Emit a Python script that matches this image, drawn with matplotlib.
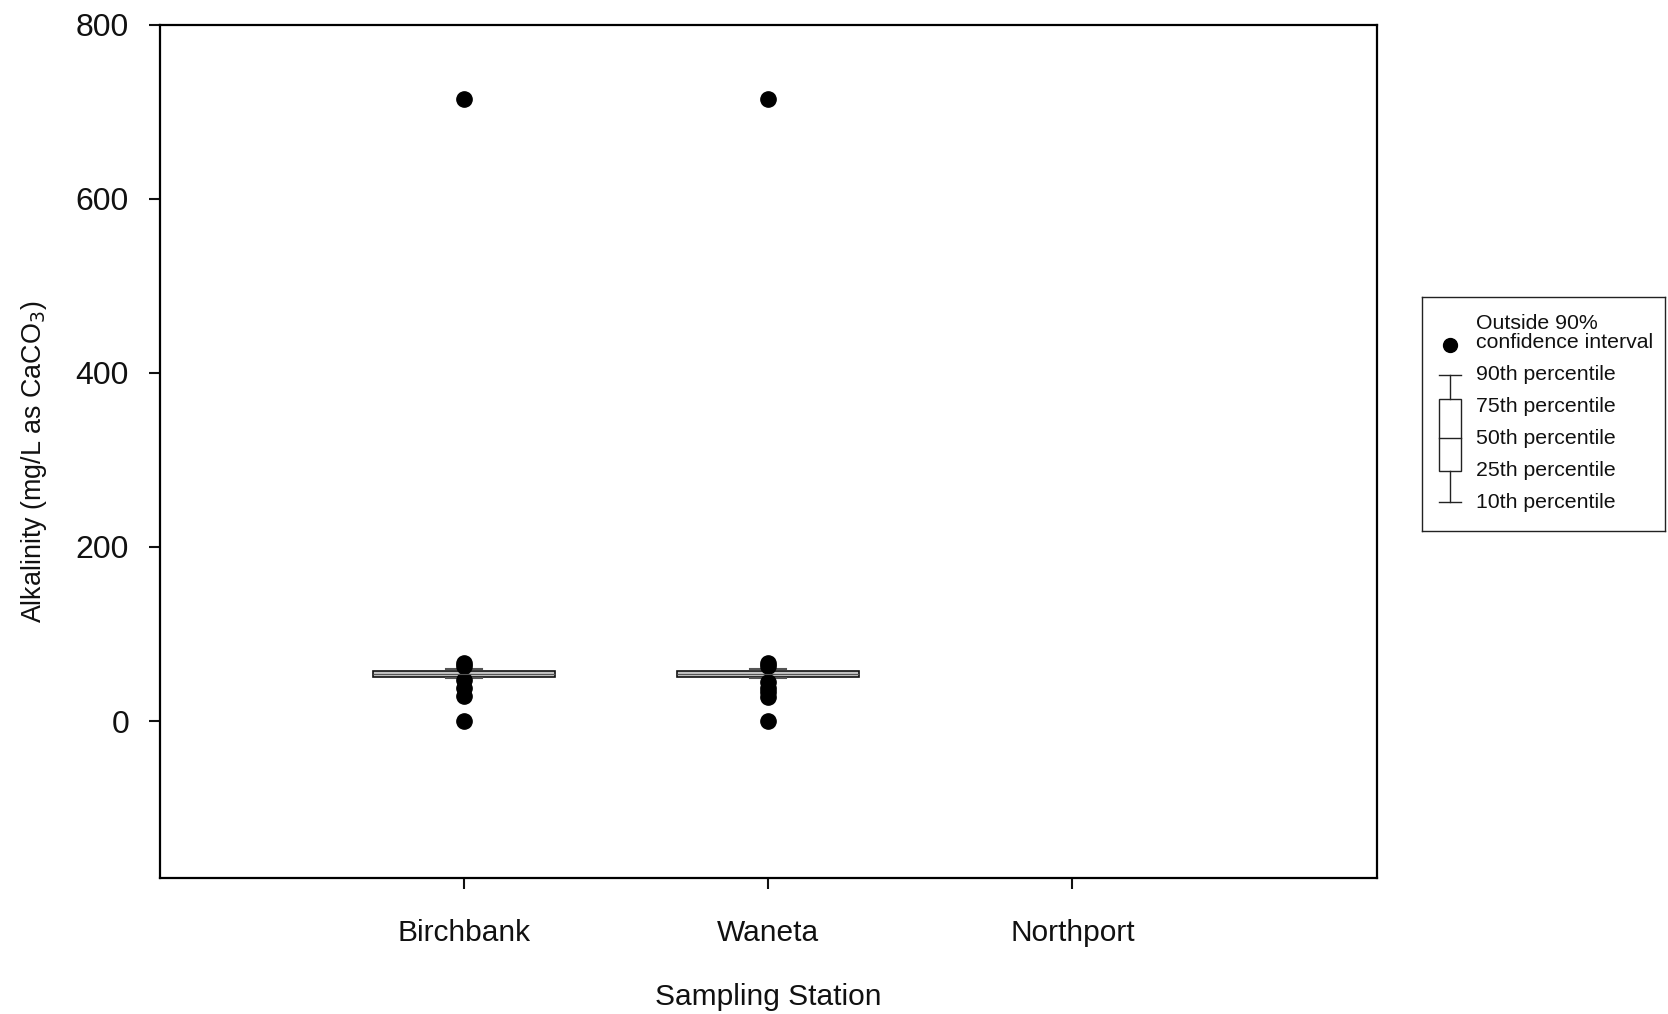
import matplotlib.pyplot as plt
import numpy as np

plt.rcParams['font.family'] = ['Liberation Sans', 'DejaVu Sans']

stations = ['Birchbank', 'Waneta', 'Northport']

# percentiles for each station (Northport has no data)
p10 = [48.9, 48.9]
p25 = [50.3, 50.3]
p50 = [54.0, 54.0]
p75 = [57.2, 57.2]
p90 = [60.3, 60.3]

# values outside the 10th-90th percentile range
fliers_birchbank = [0, 29, 38, 47, 63, 67, 714]
fliers_waneta = [0, 28, 33, 38, 45, 63, 67, 714]
fliers = [fliers_birchbank, fliers_waneta]

legend_labels = ['90th percentile', '75th percentile', '50th percentile',
                 '25th percentile', '10th percentile']

fig = plt.figure(figsize=(16.68, 10.14), dpi=100)
ax = fig.add_axes([0.0957, 0.1344, 0.7296, 0.8414])

stats = []
for i in range(len(p50)):
    stats.append({'whislo': p10[i], 'q1': p25[i], 'med': p50[i], 'q3': p75[i],
                  'whishi': p90[i], 'fliers': fliers[i]})

ax.bxp(stats, positions=[1, 2], widths=0.6, capwidths=0.12, patch_artist=True,
       boxprops=dict(facecolor='#c4c4c4', edgecolor='#111111', linewidth=1.2),
       medianprops=dict(color='#555555', linewidth=0.8),
       whiskerprops=dict(color='#333333', linewidth=1),
       capprops=dict(color='#555555', linewidth=1.5),
       flierprops=dict(marker='o', markersize=11, markerfacecolor='black',
                       markeredgecolor='black'),
       manage_ticks=False)

ax.set_xlim(0, 4)
ax.set_ylim(-180, 800)
ax.set_xticks([1, 2, 3])
ax.set_xticklabels(stations)
ax.set_yticks([0, 200, 400, 600, 800])

for s in ax.spines.values():
    s.set_linewidth(1.6)
ax.tick_params(axis='y', direction='out', length=8, width=1.5, pad=14,
               labelsize=23, colors='#111111')
ax.tick_params(axis='x', direction='out', length=8, width=1.5, pad=22,
               labelsize=21.5, colors='#111111')

ax.set_xlabel('Sampling Station', fontsize=21.5, labelpad=26, color='#111111')
ax.set_ylabel('Alkalinity (mg/L as CaCO$_3$)', fontsize=19.4, labelpad=19.5,
              color='#111111')
ax.yaxis.label.set_y(0.487)

# legend drawn as its own small axes
lax = fig.add_axes([0.8525, 0.4763, 0.1457, 0.2308])
lax.set_xlim(0, 1)
lax.set_ylim(4.9, -2.43)
lax.set_xticks([])
lax.set_yticks([])
for s in lax.spines.values():
    s.set_linewidth(1)
    s.set_color('#222222')

gx = 0.115
hw = 0.044
tx = 0.221
lax.plot([gx], [-0.93], 'o', color='black', markersize=10)
lax.text(tx, -1.3, 'Outside 90%\nconfidence interval', fontsize=15.3,
         va='center', ha='left', linespacing=1.05, color='#111111')
rows = np.arange(len(legend_labels))
for r, lab in zip(rows, legend_labels):
    lax.text(tx, r, lab, fontsize=15.3, va='center', ha='left', color='#111111')
# whisker glyph
lax.plot([gx - hw, gx + hw], [rows[0], rows[0]], color='#222222', lw=1)
lax.plot([gx - hw, gx + hw], [rows[4], rows[4]], color='#222222', lw=1)
lax.plot([gx, gx], [rows[0], 0.78], color='#222222', lw=1)
lax.plot([gx, gx], [3.02, rows[4]], color='#222222', lw=1)
lax.add_patch(plt.Rectangle((gx - hw, 0.78), 2 * hw, 3.02 - 0.78,
                            facecolor='white', edgecolor='#222222', lw=1))
lax.plot([gx - hw, gx + hw], [rows[2], rows[2]], color='#222222', lw=1)

fig.savefig('out.png', dpi=100)
